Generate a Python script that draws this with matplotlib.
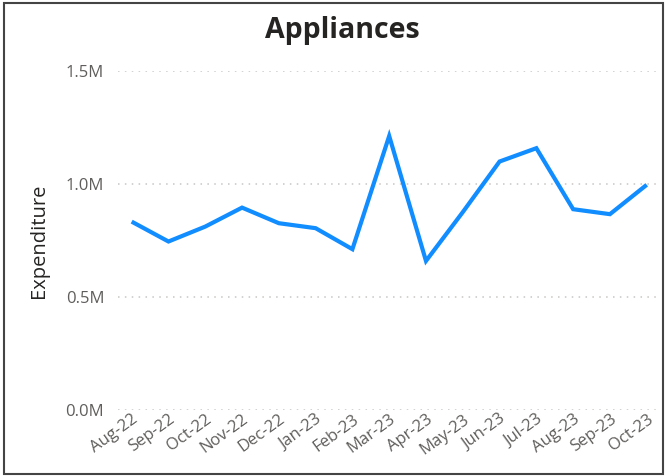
import matplotlib
matplotlib.use("Agg")
import matplotlib.pyplot as plt
from matplotlib.patches import Rectangle
from matplotlib.ticker import FuncFormatter

months = ["Aug-22", "Sep-22", "Oct-22", "Nov-22", "Dec-22", "Jan-23", "Feb-23",
          "Mar-23", "Apr-23", "May-23", "Jun-23", "Jul-23", "Aug-23", "Sep-23", "Oct-23"]
expenditure = [833000, 745000, 811000, 895000, 826000, 804000, 711000,
               1212000, 659000, 875000, 1099000, 1158000, 888000, 866000, 996000]
y_ticks = [0, 500000, 1000000, 1500000]

plt.rcParams["font.family"] = ["Open Sans", "DejaVu Sans"]

fig = plt.figure(figsize=(6.67, 4.76), dpi=100)
ax = fig.add_axes([0.177, 0.139, 0.813, 0.712])

x = list(range(len(months)))
ax.plot(x, expenditure, color="#118DFF", linewidth=3, solid_joinstyle="miter",
        solid_capstyle="butt", zorder=3)

ax.set_xlim(-0.37, len(months) - 1 + 0.37)
ax.set_ylim(0, 1500000)
ax.set_yticks(y_ticks)
ax.yaxis.set_major_formatter(FuncFormatter(lambda v, p: f"{v/1e6:.1f}M"))
ax.set_xticks(x)
ax.set_xticklabels(months, rotation=36, ha="right", rotation_mode="anchor")

ax.grid(axis="y", color="#C8C6C4", linestyle=(0, (1, 3.5)), linewidth=1.1)
ax.set_axisbelow(True)
for s in ax.spines.values():
    s.set_visible(False)
ax.tick_params(axis="both", length=0, labelcolor="#605E5C", labelsize=12)
ax.tick_params(axis="y", pad=10)
ax.tick_params(axis="x", pad=1)

ax.set_ylabel("Expenditure", fontsize=14.5, color="#252423", labelpad=12)
fig.text(0.513, 0.936, "Appliances", ha="center", va="center",
         fontsize=20.5, fontweight="bold", color="#252423")

fig.patches.append(Rectangle((0.006, 0.004), 0.988, 0.99, transform=fig.transFigure,
                             fill=False, edgecolor="#444444", linewidth=1.5))

fig.savefig("out.png", dpi=100)
